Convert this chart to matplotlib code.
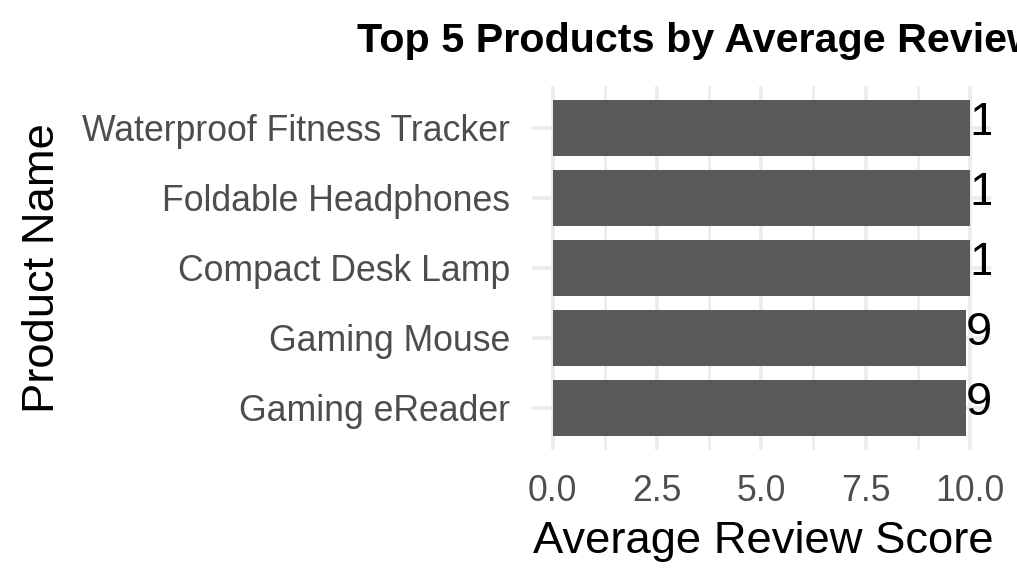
import matplotlib
matplotlib.use("Agg")
import matplotlib.pyplot as plt
import matplotlib.transforms as mtransforms
from matplotlib.ticker import MultipleLocator

# ---- data ----
products = ["Gaming eReader", "Gaming Mouse", "Compact Desk Lamp",
            "Foldable Headphones", "Waterproof Fitness Tracker"]
scores = [9.9, 9.9, 10.0, 10.0, 10.0]
labels = ["9.9", "9.9", "10", "10", "10"]
x_ticks = [0.0, 2.5, 5.0, 7.5, 10.0]
x_ticklabels = ["0.0", "2.5", "5.0", "7.5", "10.0"]

plt.rcParams['font.family'] = ['Liberation Sans', 'DejaVu Sans']

W, H = 1017, 587
fig = plt.figure(figsize=(W / 100, H / 100), dpi=100)
fig.patch.set_facecolor("white")

# panel in pixel coords
left, right, top, bottom = 531.7, 990.7, 86.0, 449.5
ax = fig.add_axes([left / W, (H - bottom) / H, (right - left) / W, (bottom - top) / H])
ax.set_facecolor("white")

ypos = list(range(len(products)))
ax.barh(ypos, scores, height=0.8, color="#595959", zorder=2)

ax.set_xlim(-0.5, 10.5)
ax.set_ylim(-0.6, len(products) - 1 + 0.6)

ax.set_xticks(x_ticks)
ax.set_xticklabels(x_ticklabels)
ax.xaxis.set_minor_locator(MultipleLocator(1.25))
ax.set_yticks(ypos)
ax.set_yticklabels(products)

ax.grid(True, which="major", axis="both", color="#EBEBEB", linewidth=2.6, zorder=0)
ax.grid(True, which="minor", axis="x", color="#EBEBEB", linewidth=1.8, zorder=0)
ax.set_axisbelow(True)
for s in ax.spines.values():
    s.set_visible(False)

ax.tick_params(axis="both", which="both", length=0, labelsize=25.7, labelcolor="#4D4D4D")
ax.tick_params(axis="y", pad=15.6)
ax.tick_params(axis="x", pad=17.5)

# value labels (clipped to the panel)
off = mtransforms.offset_copy(ax.transData, fig=fig, x=0, y=-5, units="points")
for yp, v, lab in zip(ypos, scores, labels):
    ax.text(v, yp, lab, ha="left", va="baseline", fontsize=34, color="black",
            transform=off, clip_on=True)

# axis titles
ax.set_xlabel("Average Review Score", fontsize=32.7, color="black")
ax.xaxis.label.set_va("baseline")
ax.xaxis.set_label_coords(0.505, 1 - (553 - top) / (bottom - top))

ax.set_ylabel("Product Name", fontsize=32.7, color="black")
ax.yaxis.label.set_va("baseline")
ax.yaxis.set_label_coords((54 - left) / (right - left), 0.5)

# title (centred on panel; runs off the right edge like the reference)
ax.set_title("Top 5 Products by Average Review Score", fontsize=29.7, fontweight="bold",
             color="black", loc="center", pad=0,
             y=1 + (top - 52) / (bottom - top), va="baseline")

fig.savefig("out.png", dpi=100)
